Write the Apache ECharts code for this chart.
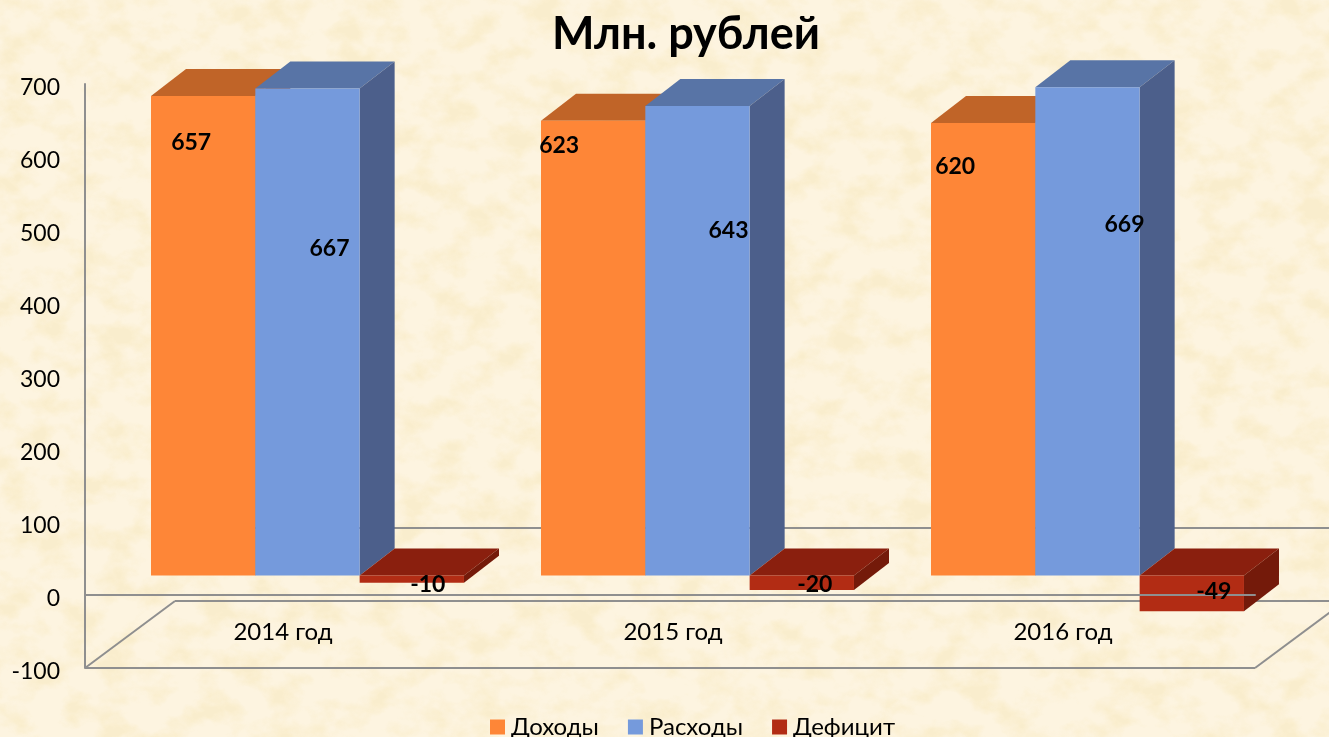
<!DOCTYPE html>
<html><head><meta charset="utf-8">
<style>
html,body{margin:0;padding:0;width:1329px;height:737px;overflow:hidden;background-color:#FDF4E0;}
#tex{position:absolute;left:0;top:0;width:1329px;height:737px;}
#c{position:absolute;left:0;top:0;width:1329px;height:737px;}
</style>
<script src="https://cdn.jsdelivr.net/npm/echarts@6/dist/echarts.min.js"></script>
</head><body>
<svg id="tex" xmlns="http://www.w3.org/2000/svg">
<filter id="f" x="0" y="0" width="100%" height="100%" color-interpolation-filters="sRGB">
<feTurbulence type="fractalNoise" baseFrequency="0.03 0.04" numOctaves="4" seed="7"/>
<feColorMatrix type="matrix" values="0 0 0 0 0.95  0 0 0 0 0.87  0 0 0 0 0.62  3.2 0 0 0 -1.35"/>
</filter>
<rect width="1329" height="737" filter="url(#f)" opacity="0.28"/>
</svg>
<div id="c"></div>
<script>
var titleText = 'Млн. рублей';
var categories = ['2014 год', '2015 год', '2016 год'];
var seriesNames = ['Доходы', 'Расходы', 'Дефицит'];
var incomes = [657, 623, 620];
var expenses = [667, 643, 669];
var deficits = [-10, -20, -49];

var FONT = 'Lato, "Open Sans", sans-serif';
var GRAY = '#8F8F8F';
var faces = [
  {front: '#FE8637', top: '#C06428', side: '#A85722'},
  {front: '#759ADC', top: '#5874A6', side: '#4C5F8B'},
  {front: '#B22C14', top: '#8A1F0E', side: '#741A0A'}
];
// hand-placed data label nudges of the original (px from bar centre / value end)
var labelNudgeX = [[-12, 22, 16], [-34, 31, 13], [-28, 37, 22]];
var labelNudgeY = [[47, 160, 2], [25, 124, -6], [44, 137, -20]];

var DEPTH_X = 35, DEPTH_Y = 27, PLANE_LIFT = 19.5, GROUP_INSET = 66, BAR_RATIO = 0.2675;

function barGeom(api, seriesIdx) {
  var cat = api.value(0), val = api.value(1);
  var band = api.size([1, 0])[0];
  var w = band * BAR_RATIO;
  var c0 = api.coord([cat, 0]), cv = api.coord([cat, val]);
  var x = c0[0] - band / 2 + GROUP_INSET + seriesIdx * w;
  return {x: x, w: w, zero: c0[1] - PLANE_LIFT, end: cv[1] - PLANE_LIFT};
}
function makeBarRender(idx) {
  return function (params, api) {
    var g = barGeom(api, idx), f = faces[idx];
    var upper = Math.min(g.zero, g.end), lower = Math.max(g.zero, g.end);
    var l = g.x, r = g.x + g.w;
    return {type: 'group', children: [
      {type: 'polygon', shape: {points: [[l, upper], [l + DEPTH_X, upper - DEPTH_Y], [r + DEPTH_X, upper - DEPTH_Y], [r, upper]]}, style: {fill: f.top}},
      {type: 'polygon', shape: {points: [[r, upper], [r + DEPTH_X, upper - DEPTH_Y], [r + DEPTH_X, lower - DEPTH_Y], [r, lower]]}, style: {fill: f.side}},
      {type: 'rect', shape: {x: l, y: upper, width: g.w, height: lower - upper}, style: {fill: f.front}}
    ]};
  };
}
function barSeries(idx, values) {
  return {
    name: seriesNames[idx], type: 'custom', z: 2, silent: true, clip: false,
    coordinateSystem: 'cartesian2d', itemStyle: {color: faces[idx].front},
    encode: {x: 0, y: 1},
    data: values.map(function (v, i) { return [i, v]; }),
    renderItem: makeBarRender(idx)
  };
}
function labelSeries(idx, values) {
  return {
    type: 'custom', z: 5, silent: true, clip: false, coordinateSystem: 'cartesian2d',
    encode: {x: 0, y: 1},
    data: values.map(function (v, i) { return [i, v]; }),
    renderItem: function (params, api) {
      var g = barGeom(api, idx), cat = api.value(0);
      return {type: 'text', style: {
        text: String(api.value(1)),
        x: g.x + g.w / 2 + labelNudgeX[cat][idx], y: g.end + labelNudgeY[cat][idx],
        align: 'center', verticalAlign: 'middle',
        font: 'bold 23px ' + FONT, fill: '#000'
      }};
    }
  };
}
var frameSeries = {
  type: 'custom', z: 1, silent: true, clip: false, coordinateSystem: 'cartesian2d',
  data: [[0, 0]], encode: {x: 0, y: 1},
  renderItem: function (params, api) {
    var cs = params.coordSys;
    var L = cs.x, R = cs.x + cs.width, B = cs.y + cs.height, far = 1400;
    var dx = 90, dy = 67;
    var st = {stroke: GRAY, lineWidth: 2, fill: null};
    function seg(a, b, c, d) { return {type: 'line', shape: {x1: a, y1: b, x2: c, y2: d}, style: st}; }
    return {type: 'group', children: [
      seg(L, B, R, B),
      seg(L, B, L + dx, B - dy),
      seg(R, B, R + dx, B - dy),
      seg(L + dx, B - dy, far, B - dy),
      seg(L + dx, B - 140, far, B - 140)
    ]};
  }
};

var chart = echarts.init(document.getElementById('c'), null, {renderer: 'canvas', width: 1329, height: 737});
chart.setOption({
  backgroundColor: 'transparent',
  animation: false,
  title: {text: titleText, left: 547, top: 7, textStyle: {fontFamily: FONT, fontSize: 45, fontWeight: 'bold', color: '#000'}},
  legend: {
    data: seriesNames, left: 485, top: 710, icon: 'rect', itemWidth: 15, itemHeight: 15, itemGap: 29,
    textStyle: {fontFamily: FONT, fontSize: 24, color: '#000', padding: [0, 0, 0, 1]}
  },
  grid: {left: 85, right: 74, top: 84, height: 584, containLabel: false},
  xAxis: {
    type: 'category', data: categories, z: 3,
    axisLine: {show: true, onZero: true, lineStyle: {color: GRAY, width: 2}},
    axisTick: {show: false},
    axisLabel: {color: '#000', fontFamily: FONT, fontSize: 24, margin: -48, padding: [0, 0, 0, 6]}
  },
  yAxis: {
    type: 'value', min: -100, max: 700, interval: 100, z: 3,
    splitLine: {show: false}, axisTick: {show: false},
    axisLine: {show: true, lineStyle: {color: GRAY, width: 2}},
    axisLabel: {color: '#000', fontFamily: FONT, fontSize: 23, margin: 25, verticalAlign: 'top', lineHeight: 7}
  },
  series: [frameSeries, barSeries(0, incomes), barSeries(1, expenses), barSeries(2, deficits),
    labelSeries(0, incomes), labelSeries(1, expenses), labelSeries(2, deficits)]
});
</script>
</body></html>
